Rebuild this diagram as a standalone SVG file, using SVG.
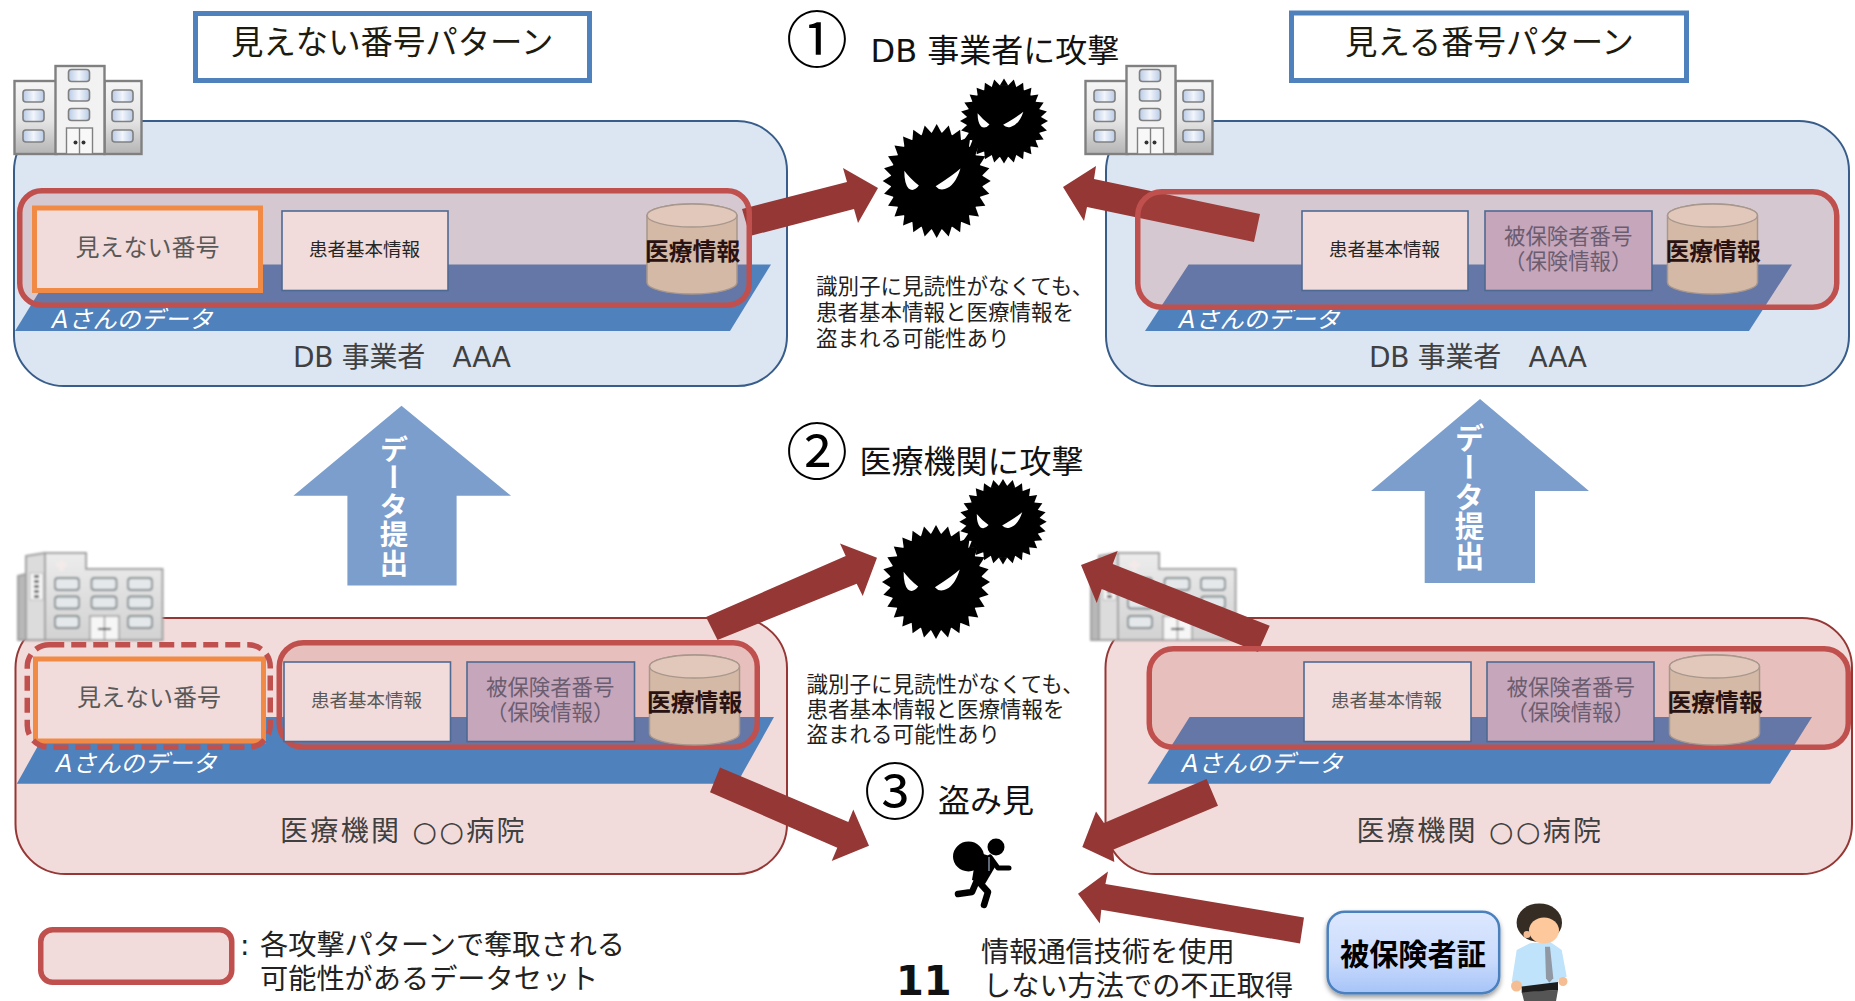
<svg xmlns="http://www.w3.org/2000/svg" width="1855" height="1001" viewBox="0 0 1855 1001">
<style>
text{font-family:"DejaVu Sans","Noto Sans CJK JP",sans-serif}
.title{fill:#1d1b10;font-size:32.400px}
.h1{font-size:32px;fill:#111}
.note{font-size:21.500px;fill:#1f1f1f}
.leg{font-size:28.200px;fill:#222}
.grey{font-size:24px;fill:#595959}
.info{font-size:18.500px;fill:#262626}
.info2{font-size:18.500px;fill:#595959}
.ins{font-size:21.400px;fill:#6b5d70}
.med{font-size:23.800px;font-weight:700;fill:#2a1212}
.who{font-size:24px;font-style:italic;fill:#fff}
.org{font-size:28px;fill:#404040}
.num{font-size:62px;fill:#000;text-anchor:middle;font-family:"Noto Sans CJK JP",sans-serif}
.vert{font-size:28.400px;font-weight:700;fill:#fff;writing-mode:vertical-rl}
.tbox{fill:#fff;stroke:#4f81bd;stroke-width:5}
.pblue{fill:#dce6f2;stroke:#385d8a;stroke-width:2}
.ppink{fill:#f2dcdb;stroke:#953735;stroke-width:2}
.band{fill:#4f81bd}
.set{fill:#c0504d;fill-opacity:.2;stroke:#c0504d;stroke-width:5.500}
.orange{fill:#f2dcdb;stroke:#f08a44;stroke-width:5}
.rec{fill:#f2dcdb;stroke:#4f6a92;stroke-width:1.600}
.ins-box{fill:#c6a6bb;stroke:#4f6a92;stroke-width:1.600}
.up{fill:#7b9ecd}
#connectors polygon{fill:#953735}
.win{fill:url(#glass);stroke:#808080;stroke-width:1.600}
.hwin{fill:#e4e8ea;stroke:#80888c;stroke-width:1.800}
</style>
<defs>
<linearGradient id="wing" x1="0" y1="0" x2="0" y2="1"><stop offset="0" stop-color="#f6f6f6"/><stop offset=".55" stop-color="#e4e4e4"/><stop offset="1" stop-color="#b4b4b4"/></linearGradient>
<linearGradient id="hwall" x1="0" y1="0" x2="0" y2="1"><stop offset="0" stop-color="#ececec"/><stop offset="1" stop-color="#d2d2d2"/></linearGradient>
<linearGradient id="glass" x1="0" y1="0" x2="1" y2="0"><stop offset="0" stop-color="#b9cbe6"/><stop offset=".5" stop-color="#f2f5fb"/><stop offset="1" stop-color="#b9cbe6"/></linearGradient>
<linearGradient id="card" x1="0" y1="0" x2="0" y2="1"><stop offset="0" stop-color="#dde8fe"/><stop offset=".6" stop-color="#c9dafc"/><stop offset="1" stop-color="#a6c4f8"/></linearGradient>
<filter id="soft" x="-5%" y="-5%" width="110%" height="110%"><feGaussianBlur stdDeviation=".6"/></filter>
<filter id="soft2" x="-5%" y="-5%" width="110%" height="110%"><feGaussianBlur stdDeviation="1"/></filter>
<filter id="shadow" x="-10%" y="-10%" width="120%" height="130%"><feDropShadow dx="0" dy="3" stdDeviation="2.500" flood-color="#000" flood-opacity=".4"/></filter>
<polygon id="spike" points="-.1,-.83 0,-1 .1,-.83"/>
<g id="spike4"><use href="#spike"/><use href="#spike" transform="rotate(90)"/><use href="#spike" transform="rotate(180)"/><use href="#spike" transform="rotate(270)"/></g>
<g id="virus">
<circle r=".85" fill="#000"/>
<use href="#spike4"/><use href="#spike4" transform="rotate(12.857)"/><use href="#spike4" transform="rotate(25.714)"/><use href="#spike4" transform="rotate(38.571)"/><use href="#spike4" transform="rotate(51.429)"/><use href="#spike4" transform="rotate(64.286)"/><use href="#spike4" transform="rotate(77.143)"/>
<path fill="#fff" d="M-.6-.18Q-.5-.05-.33.08-.43.2-.52.13-.6.05-.6-.18Z"/>
<path fill="#fff" d="M.44-.22Q.3-.1-.02.09.05.17.15.14.34.09.44-.22Z"/>
</g>
<g id="office">
<rect x="1" y="16" width="42" height="73" fill="url(#wing)" stroke="#808080" stroke-width="2.400"/>
<rect x="91" y="16" width="37" height="73" fill="url(#wing)" stroke="#808080" stroke-width="2.400"/>
<rect x="42" y="1" width="49" height="88" fill="#f2f2f2" stroke="#808080" stroke-width="2.400"/>
<rect class="win" x="9.500" y="25" width="21" height="12" rx="3"/><rect class="win" x="9.500" y="44.500" width="21" height="12" rx="3"/><rect class="win" x="9.500" y="65" width="21" height="12" rx="3"/>
<rect class="win" x="55" y="4.500" width="21" height="12" rx="3"/><rect class="win" x="55" y="24" width="21" height="12" rx="3"/><rect class="win" x="55" y="43.500" width="21" height="12" rx="3"/>
<rect class="win" x="98.500" y="25" width="21" height="12" rx="3"/><rect class="win" x="98.500" y="44.500" width="21" height="12" rx="3"/><rect class="win" x="98.500" y="65" width="21" height="12" rx="3"/>
<rect x="53" y="63" width="26" height="26" fill="#f8f8f8" stroke="#808080" stroke-width="1.400"/><path d="M66 63V89" stroke="#808080" stroke-width="1.400"/>
<circle cx="62" cy="77.500" r="2" fill="#333"/><circle cx="70" cy="77.500" r="2" fill="#333"/>
</g>
<g id="hospital" filter="url(#soft2)">
<polygon points="8,3 27,0 27,87 8,87" fill="#dcdcdc" stroke="#a0a0a0" stroke-width="2"/>
<polygon points="0,23 8,21 8,87 0,87" fill="#b8b8b8" stroke="#a0a0a0" stroke-width="2"/>
<polygon points="27,0 68,0 68,16 144.500,16 144.500,87 27,87" fill="url(#hwall)" stroke="#a0a0a0" stroke-width="2"/>
<rect x="12" y="20" width="13" height="27" fill="#f7f7f7" stroke="#bbb"/><path d="M18.500 22V45" stroke="#666" stroke-width="5" stroke-dasharray="3 2"/>
<path d="M43.500 7V18M38 12H49" stroke="#f4eaea" stroke-width="4"/>
<rect class="hwin" x="37" y="25" width="24" height="12" rx="3"/><rect class="hwin" x="73.500" y="25" width="25" height="12" rx="3"/><rect class="hwin" x="110" y="25" width="24" height="12" rx="3"/>
<rect class="hwin" x="37" y="43.500" width="24" height="12" rx="3"/><rect class="hwin" x="73.500" y="43.500" width="25" height="12" rx="3"/><rect class="hwin" x="110" y="43.500" width="24" height="12" rx="3"/>
<rect class="hwin" x="37" y="63" width="24" height="12" rx="3"/><rect class="hwin" x="110" y="63" width="24" height="12" rx="3"/>
<rect x="72" y="63" width="29" height="24" fill="#f6f6f6" stroke="#999" stroke-width="1.400"/><path d="M86.500 63V87" stroke="#999" stroke-width="1.400"/><path d="M80 76H93" stroke="#444" stroke-width="2"/>
</g>
<g id="can">
<path d="M0 11.500A45 11.500 0 0 1 90 11.500V78.500A45 11.500 0 0 1 0 78.500Z" fill="#d4b9a6" stroke="#a8978c" stroke-width="1.500"/>
<ellipse cx="45" cy="11.500" rx="45" ry="11.500" fill="#e2c8bb" stroke="#a8978c" stroke-width="1.500"/>
</g>
</defs>

<g id="panel-db-left"><rect class="pblue" x="14" y="121" width="773" height="265" rx="50"/><polygon class="band" points="56,264.500 771,264.500 730,331 15,331"/></g>
<g id="panel-db-right"><rect class="pblue" x="1106" y="121" width="743" height="265" rx="50"/><polygon class="band" points="1188.600,264.500 1792,264.500 1749,331 1145,331"/></g>
<g id="panel-hosp-left"><rect class="ppink" x="15.500" y="618" width="771.500" height="256" rx="50"/><polygon class="band" points="54,717 774,717 736.700,783.800 16.800,783.800"/></g>
<g id="panel-hosp-right"><rect class="ppink" x="1105.500" y="618" width="746.500" height="256" rx="50"/><polygon class="band" points="1189.600,717 1812,717 1770,783.800 1147.500,783.800"/></g>

<g id="building-db-left"><use href="#office" transform="translate(13.500 65)"/></g>
<g id="building-db-right"><use href="#office" transform="translate(1084.500 65)"/></g>
<g id="building-hosp-left"><use href="#hospital" transform="translate(18 553)"/></g>
<g id="building-hosp-right"><use href="#hospital" transform="translate(1091 553)"/></g>

<g id="connectors">
<polygon points="742,209 847,182 843,168 878,188 858,223 854,209 750,236"/>
<polygon points="1260,214 1094,179 1096,166 1063,187 1084,221 1087,207 1254,242"/>
<polygon points="706,617 845.700,556 840,543.500 877,557.700 862.700,596 856.700,583.700 717.500,640"/>
<polygon points="1269.700,625.800 1112.700,564 1117.700,551 1081,565 1096.700,603 1101.700,589 1258,652"/>
<polygon points="720,767.400 848.300,822 853.300,809.500 869,845.800 831.700,861 837.300,847.800 710,792.300"/>
<polygon points="1206.600,779 1104,823 1096,811.400 1082.300,847 1114.300,862 1113,849.700 1218,805.700"/>
<polygon points="1304,917.400 1105.400,884 1108,871.500 1078,893.700 1099.800,923.500 1101.300,909.800 1300,943.400"/>
</g>

<g id="title-left"><rect class="tbox" x="195.500" y="13.500" width="394" height="67"/><text class="title" x="231" y="54">見えない番号パターン</text></g>
<g id="title-right"><rect class="tbox" x="1291.500" y="13" width="395" height="67.500"/><text class="title" x="1345" y="54">見える番号パターン</text></g>

<g id="db-left">
<text class="who" x="52" y="328">Aさんのデータ</text>
<text class="org" x="293" y="367" textLength="218">DB 事業者　AAA</text>
<rect class="set" x="19.750" y="190.750" width="729.500" height="114.500" rx="22"/>
<rect class="orange" x="34.500" y="208" width="226" height="82.500"/><text class="grey" x="75.500" y="256">見えない番号</text>
<rect class="rec" x="282" y="211" width="166" height="79.500"/><text class="info" x="309" y="256">患者基本情報</text>
<use href="#can" transform="translate(647 204)"/><text class="med" x="645" y="260">医療情報</text>
</g>
<g id="db-right">
<text class="who" x="1179" y="328">Aさんのデータ</text>
<text class="org" x="1369" y="367" textLength="218">DB 事業者　AAA</text>
<rect class="set" x="1137.750" y="191.750" width="699" height="115.500" rx="24"/>
<rect class="rec" x="1302" y="211" width="166" height="79.500"/><text class="info" x="1329" y="256">患者基本情報</text>
<rect class="ins-box" x="1485" y="211" width="167" height="79.500"/><text class="ins" x="1504" y="244">被保険者番号</text><text class="ins" x="1504" y="269">（保険情報）</text>
<use href="#can" transform="translate(1667.500 204)"/><text class="med" x="1665.500" y="260">医療情報</text>
</g>
<g id="hosp-left">
<text class="who" x="56" y="772">Aさんのデータ</text>
<text class="org" x="280" y="841" textLength="244.500">医療機関 ○○病院</text>
<rect class="orange" x="35.500" y="659" width="228" height="82"/><text class="grey" x="77" y="706">見えない番号</text>
<rect fill="none" stroke="#c0504d" stroke-width="5.500" stroke-dasharray="15 7" x="27.250" y="644.750" width="243" height="102.500" rx="22"/>
<rect class="set" x="279.250" y="642.750" width="478" height="104.500" rx="24"/>
<rect class="rec" x="284" y="662" width="166.500" height="79.500"/><text class="info2" x="311" y="707">患者基本情報</text>
<rect class="ins-box" x="467" y="662" width="167.500" height="79.500"/><text class="ins" x="486" y="695">被保険者番号</text><text class="ins" x="486" y="720">（保険情報）</text>
<use href="#can" transform="translate(649.500 655)"/><text class="med" x="647" y="711">医療情報</text>
</g>
<g id="hosp-right">
<text class="who" x="1182" y="772">Aさんのデータ</text>
<text class="org" x="1356.500" y="841" textLength="244.500">医療機関 ○○病院</text>
<rect class="set" x="1149.250" y="648.750" width="699" height="98.500" rx="24"/>
<rect class="rec" x="1304" y="662" width="167" height="79.500"/><text class="info2" x="1331" y="707">患者基本情報</text>
<rect class="ins-box" x="1487" y="662" width="167" height="79.500"/><text class="ins" x="1506.500" y="695">被保険者番号</text><text class="ins" x="1506.500" y="720">（保険情報）</text>
<use href="#can" transform="translate(1669.500 655)"/><text class="med" x="1667.500" y="711">医療情報</text>
</g>

<g id="up-left"><polygon class="up" points="401.500,405.700 511,495.700 456.600,495.700 456.600,585.600 347.400,585.600 347.400,495.700 293.400,495.700"/><text class="vert" x="391" y="435">データ提出</text></g>
<g id="up-right"><polygon class="up" points="1480,399 1589,491 1535,491 1535,583 1424.700,583 1424.700,491 1371,491"/><text class="vert" x="1466.500" y="423" style="font-size:29.500px">データ提出</text></g>

<g id="step-1"><text class="num" x="817" y="63">①</text><text class="h1" x="870.500" y="62">DB 事業者に攻撃</text></g>
<g id="virus-1"><use href="#virus" transform="translate(1004 121) scale(44 42.500)"/><use href="#virus" transform="translate(936.700 181) scale(54 57)"/></g>
<g id="note-1"><text class="note" x="816" y="294">識別子に見読性がなくても、</text><text class="note" x="816" y="320">患者基本情報と医療情報を</text><text class="note" x="816" y="346">盗まれる可能性あり</text></g>

<g id="step-2"><text class="num" x="817" y="475">②</text><text class="h1" x="859.500" y="473">医療機関に攻撃</text></g>
<g id="virus-2"><use href="#virus" transform="translate(1003 521.700) scale(43.700 42.700)"/><use href="#virus" transform="translate(936 582) scale(54 57)"/></g>
<g id="note-2"><text class="note" x="806.500" y="692">識別子に見読性がなくても、</text><text class="note" x="806.500" y="717">患者基本情報と医療情報を</text><text class="note" x="806.500" y="742">盗まれる可能性あり</text></g>

<g id="step-3"><text class="num" x="895" y="815">③</text><text class="h1" x="938" y="812">盗み見</text></g>
<g id="thief" filter="url(#soft)">
<ellipse cx="968.500" cy="856.500" rx="15.500" ry="15"/>
<circle cx="996" cy="847" r="8.500"/>
<polygon points="980,853 993,857 995,867 985,884 972,880 974,868"/>
<path d="M978 878 972 892 958 894M979 882 988 892 984 905" fill="none" stroke="#000" stroke-width="6.500" stroke-linecap="round" stroke-linejoin="round"/>
<path d="M990 857 998 868 1009 868" fill="none" stroke="#000" stroke-width="5" stroke-linecap="round" stroke-linejoin="round"/>
<path d="M989 857V871" fill="none" stroke="#bcd2ea" stroke-width="1"/>
</g>

<g id="insurance-card"><rect x="1327.700" y="911.700" width="171.500" height="81.500" rx="17" fill="url(#card)" stroke="#4a80bd" stroke-width="2.500" filter="url(#shadow)"/><text x="1340" y="965" font-size="29.200" font-weight="700" fill="#000">被保険者証</text></g>
<g id="person">
<polygon points="1530,943.300 1550,941.700 1561.700,950 1566.700,976.700 1558,980 1558,985 1521.700,988 1520,983.300 1511.700,981.700 1516.700,950" fill="#bfe3fa"/>
<circle cx="1516.500" cy="986" r="5.500" fill="#f5bd94"/><circle cx="1563" cy="981.500" r="4.500" fill="#f5bd94"/>
<polygon points="1521.700,992 1558,990 1556,1001 1524,1001" fill="#555"/>
<polygon points="1521.700,986.500 1558,982 1558,990 1521.700,992.500" fill="#1d1d1d"/>
<ellipse cx="1539.300" cy="922.700" rx="22.700" ry="19.300" fill="#352c24"/>
<ellipse cx="1544" cy="930.500" rx="15" ry="13" fill="#fdc89c"/>
<circle cx="1527" cy="934.500" r="3.500" fill="#f5bd94"/>
<polygon points="1545,946.700 1550,946.700 1553.300,978.300 1549.300,982.700 1546,978.300" fill="#8f98a3"/>
</g>

<g id="legend">
<rect x="40.750" y="929.750" width="191" height="52.500" rx="12" fill="#f2dcdb" stroke="#c0504d" stroke-width="5.500"/>
<text class="leg" x="240" y="955">:</text><text class="leg" x="260" y="955">各攻撃パターンで奪取される</text>
<text class="leg" x="260" y="989">可能性があるデータセット</text>
</g>
<g id="other-method"><text class="leg" x="981" y="962">情報通信技術を使用</text><text class="leg" x="983" y="996">しない方法での不正取得</text></g>
<text id="page" x="896" y="995" font-size="40" font-weight="700" fill="#111">11</text>
</svg>
